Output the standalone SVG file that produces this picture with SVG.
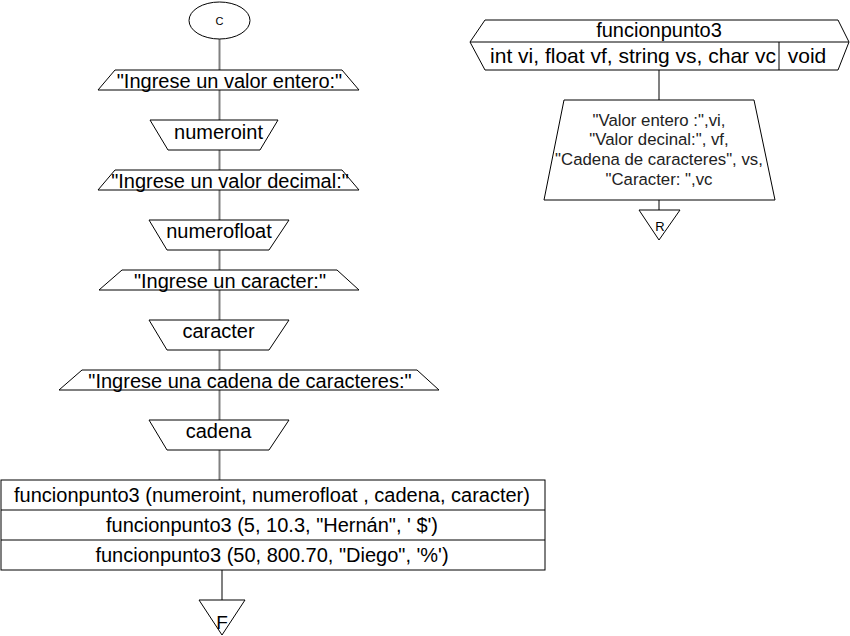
<svg xmlns="http://www.w3.org/2000/svg" width="850" height="636" viewBox="0 0 850 636">
<style>
.s{fill:#fff;stroke:#000;stroke-width:1}
.c{stroke:#808080;stroke-width:2;fill:none}
.t{font-family:"Liberation Sans",Arial,sans-serif;font-size:20px;fill:#000;text-anchor:middle}
.sm{font-family:"Liberation Sans",Arial,sans-serif;font-size:16.8px;fill:#222;text-anchor:middle}
</style>
<rect x="0" y="0" width="850" height="636" fill="#fff"/>
<g id="connectors">
<line class="c" x1="219.5" y1="39" x2="219.5" y2="70"/>
<line class="c" x1="219.5" y1="90" x2="219.5" y2="120"/>
<line class="c" x1="219.5" y1="150" x2="219.5" y2="170"/>
<line class="c" x1="219.5" y1="190" x2="219.5" y2="220"/>
<line class="c" x1="219.5" y1="250" x2="219.5" y2="270"/>
<line class="c" x1="219.5" y1="290" x2="219.5" y2="320"/>
<line class="c" x1="219.5" y1="350" x2="219.5" y2="370"/>
<line class="c" x1="219.5" y1="390" x2="219.5" y2="420"/>
<line class="c" x1="219.5" y1="450" x2="219.5" y2="480"/>
<line class="c" x1="222" y1="570" x2="222" y2="600"/>
<line class="c" x1="659" y1="70" x2="659" y2="100"/>
<line class="c" x1="659" y1="200" x2="659" y2="210"/>
</g>
<g id="start">
<ellipse class="s" cx="219.5" cy="20.5" rx="30.5" ry="18.5"/>
<text class="t" x="219.5" y="24.5" style="font-size:11px">C</text>
</g>
<g id="out1">
<polygon class="s" points="115,70 342,70 359,90 98,90"/>
<text class="t" x="229.5" y="88">"Ingrese un valor entero:"</text>
</g>
<g id="in1">
<polygon class="s" points="150,120 278,120 260,150 168,150"/>
<text class="t" x="218.5" y="139">numeroint</text>
</g>
<g id="out2">
<polygon class="s" points="115,170 342,170 359,190 98,190"/>
<text class="t" x="230" y="188">"Ingrese un valor decimal:"</text>
</g>
<g id="in2">
<polygon class="s" points="149,220 289,220 269,250 167,250"/>
<text class="t" x="219" y="238">numerofloat</text>
</g>
<g id="out3">
<polygon class="s" points="122,270 337,270 359,290 99,290"/>
<text class="t" x="230" y="288">"Ingrese un caracter:"</text>
</g>
<g id="in3">
<polygon class="s" points="149,320 289,320 269,350 167,350"/>
<text class="t" x="218.5" y="338">caracter</text>
</g>
<g id="out4">
<polygon class="s" points="82,370 417,370 439,390 59,390"/>
<text class="t" x="250" y="388">"Ingrese una cadena de caracteres:"</text>
</g>
<g id="in4">
<polygon class="s" points="149,420 289,420 269,450 167,450"/>
<text class="t" x="218.5" y="438">cadena</text>
</g>
<g id="calls">
<rect class="s" x="1" y="480" width="544" height="90"/>
<line stroke="#000" x1="1" y1="510" x2="545" y2="510"/>
<line stroke="#000" x1="1" y1="540" x2="545" y2="540"/>
<text class="t" x="272" y="502">funcionpunto3 (numeroint, numerofloat , cadena, caracter)</text>
<text class="t" x="272" y="532">funcionpunto3 (5, 10.3, "Hernán", ' $')</text>
<text class="t" x="272" y="562">funcionpunto3 (50, 800.70, "Diego", '%')</text>
</g>
<g id="end">
<polygon class="s" points="199,600 245,600 222,635"/>
<text class="t" x="222" y="629" style="font-size:19px">F</text>
</g>
<g id="funcheader">
<polygon class="s" points="485,20 838,20 849,42 838,70 485,70 470,42"/>
<line stroke="#000" x1="470" y1="42" x2="849" y2="42"/>
<line stroke="#000" x1="779" y1="42" x2="779" y2="70"/>
<text class="t" x="659" y="37">funcionpunto3</text>
<text class="t" x="633" y="63" style="font-size:21px">int vi, float vf, string vs, char vc</text>
<text class="t" x="807" y="63" style="font-size:21px">void</text>
</g>
<g id="print">
<polygon class="s" points="564,100 754,100 775,200 544,200"/>
<text class="sm" x="659" y="126">"Valor entero :",vi,</text>
<text class="sm" x="659" y="145">"Valor decinal:", vf,</text>
<text class="sm" x="659" y="165">"Cadena de caracteres", vs,</text>
<text class="sm" x="659" y="185">"Caracter: ",vc</text>
</g>
<g id="return">
<polygon class="s" points="639,210 680,210 659,240"/>
<text class="t" x="660" y="231" style="font-size:13px">R</text>
</g>
</svg>
